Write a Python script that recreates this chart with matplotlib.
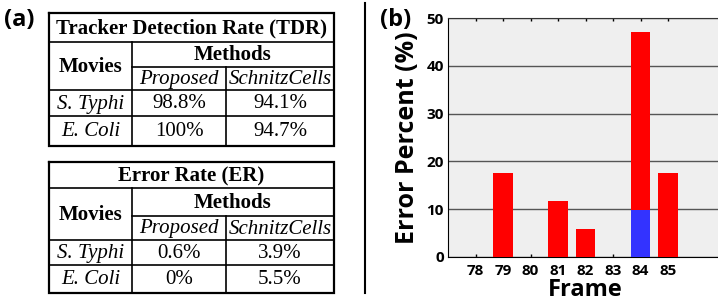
import matplotlib.pyplot as plt
import numpy as np

# table data
tables = ['Tracker Detection Rate (TDR)', 'Error Rate (ER)']
methods = ['Proposed', 'SchnitzCells']
movies = ['S. Typhi', 'E. Coli']
tdr_vals = [['98.8%', '94.1%'], ['100%', '94.7%']]
er_vals = [['0.6%', '3.9%'], ['0%', '5.5%']]

# bar data
frames = [78, 79, 80, 81, 82, 83, 84, 85]
err_blue = [0, 0, 0, 0, 0, 0, 9.8, 0]
err_red = [0, 17.6, 0, 11.7, 5.9, 0, 37.2, 17.6]

W, H = 718, 305
fig = plt.figure(figsize=(W / 100, H / 100), dpi=100)

# ---- panel (a): tables drawn in pixel coords
ax0 = fig.add_axes([0, 0, 1, 1])
ax0.set_xlim(0, W)
ax0.set_ylim(H, 0)
ax0.axis('off')

serif = 'Liberation Serif'
xs = [49, 132, 226, 334]


def draw_table(ys, title, vals):
    lw = 1.2
    # outer box
    ax0.plot([xs[0], xs[3], xs[3], xs[0], xs[0]], [ys[0], ys[0], ys[5], ys[5], ys[0]],
             color='black', lw=1.6, solid_joinstyle='miter')
    ax0.plot([xs[0], xs[3]], [ys[1], ys[1]], color='black', lw=lw)
    ax0.plot([xs[1], xs[3]], [ys[2], ys[2]], color='black', lw=lw)
    for y in ys[3:5]:
        ax0.plot([xs[0], xs[3]], [y, y], color='black', lw=lw)
    ax0.plot([xs[1], xs[1]], [ys[1], ys[5]], color='black', lw=lw)
    ax0.plot([xs[2], xs[2]], [ys[2], ys[5]], color='black', lw=lw)

    def cell(x0, x1, y0, y1, s, **kw):
        ax0.text((x0 + x1) / 2, (y0 + y1) / 2 + 1, s, ha='center', va='center',
                 family=serif, fontsize=15, **kw)

    cell(xs[0], xs[3], ys[0], ys[1], title, weight='bold')
    cell(xs[0], xs[1], ys[1], ys[3], 'Movies', weight='bold')
    cell(xs[1], xs[3], ys[1], ys[2], 'Methods', weight='bold')
    for j, m in enumerate(methods):
        cell(xs[1 + j], xs[2 + j], ys[2], ys[3], m, style='italic')
    for i, mv in enumerate(movies):
        cell(xs[0], xs[1], ys[3 + i], ys[4 + i], mv, style='italic')
        for j in range(2):
            cell(xs[1 + j], xs[2 + j], ys[3 + i], ys[4 + i], vals[i][j])


draw_table([13, 42, 67, 90, 116, 146], tables[0], tdr_vals)
draw_table([162, 188, 216, 240, 265, 293], tables[1], er_vals)

# separator
ax0.plot([365, 365], [3, 293], color='black', lw=1.5)

sans = 'Open Sans'
ax0.text(4, 20, '(a)', family=sans, weight='bold', fontsize=17, va='center', ha='left')
ax0.text(380, 20, '(b)', family=sans, weight='bold', fontsize=17, va='center', ha='left')

# ---- panel (b): bar chart
x_left = 448
unit = 27.5
ax = fig.add_axes([x_left / W, (H - 257) / H, unit * 10 / W, 239 / H])
ax.set_facecolor('#efefef')
ax.bar(frames, err_blue, width=0.72, color='#3333ff', zorder=3)
ax.bar(frames, err_red, width=0.72, bottom=err_blue, color='#ff0000', zorder=3)
ax.set_xlim(77, 87)
ax.set_ylim(0, 50)
ax.set_xticks(frames)
ax.set_yticks([0, 10, 20, 30, 40, 50])
ax.yaxis.grid(True, color='#555555', lw=1, zorder=1)
ax.tick_params(axis='x', direction='in', top=True, length=2, width=1, pad=5)
ax.tick_params(axis='y', length=0, pad=3)
for lab in ax.get_xticklabels() + ax.get_yticklabels():
    lab.set_family(sans)
    lab.set_fontweight('bold')
    lab.set_fontsize(11)
ax.spines['top'].set_color('#333333')
ax.spines['right'].set_visible(False)
ax.set_xlabel('Frame', family=sans, weight='bold', fontsize=17, labelpad=0)
ax.set_ylabel('Error Percent (%)', family=sans, weight='bold', fontsize=18, labelpad=5)

fig.savefig('out.png', dpi=100)
